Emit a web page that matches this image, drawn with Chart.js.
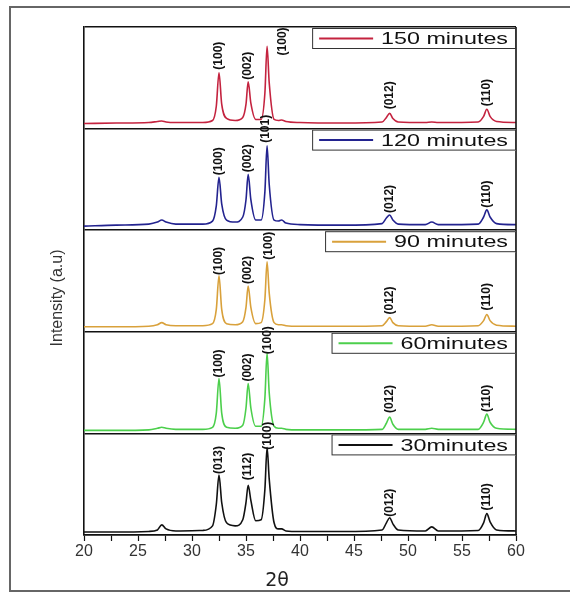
<!DOCTYPE html>
<html>
<head>
<meta charset="utf-8">
<script src="https://cdn.jsdelivr.net/npm/chart.js@4.4.1/dist/chart.umd.min.js"></script>
<style>
  html, body { margin: 0; padding: 0; background: #fff; }
  #wrap { width: 570px; height: 593px; position: relative; }
</style>
</head>
<body>
<div id="wrap"><canvas id="xrd"></canvas></div>
<script>
// 2theta sampling positions shared by every pattern
const TWO_THETA = [20, 23, 26, 26.8, 27.2, 27.6, 28.5, 31, 31.9, 32.25, 32.5, 32.75, 33.2, 34.0, 34.7, 35.0, 35.2, 35.45, 35.9, 36.4, 36.75, 36.95, 37.15, 37.6, 38.0, 38.3, 38.7, 40, 44, 47.6, 48.0, 48.3, 48.6, 49.1, 51.6, 52.2, 52.8, 56.5, 57.0, 57.3, 57.6, 58.2, 60];

// intensities (a.u.) per pattern, each inside its own 0-100 band
const I_150 = [5, 5.5, 6, 7, 7.5, 6.5, 6, 6, 8, 22, 55, 24, 10, 8, 11, 24, 46, 25, 9, 9, 35, 81, 45, 9, 8, 8.5, 7, 6, 5.5, 6.5, 11, 15, 10, 6.5, 6, 6.5, 6, 6.5, 12, 19, 12, 7, 6];
const I_120 = [4, 5, 6, 8, 10, 8, 6, 6, 9, 24, 52, 26, 10, 8, 13, 30, 55, 30, 10, 10, 38, 83, 45, 10, 9, 10, 7, 5.5, 5, 6.5, 12, 15, 10, 6, 5.5, 8, 5.5, 6, 13, 20, 13, 6.5, 5.5];
const I_90  = [5, 5, 5.5, 7, 9, 7, 6, 6, 8, 22, 55, 22, 8, 7, 10, 24, 45, 24, 8, 9, 32, 69, 38, 9, 7, 7, 6, 5.5, 5.5, 6, 10, 14, 9, 6, 5.5, 7, 5.5, 6, 11, 17, 11, 6.5, 5.5];
const I_60  = [3, 3, 3.5, 5, 6, 5, 4, 4, 6, 20, 54, 20, 6, 5, 8, 25, 49, 25, 7, 7, 35, 79, 40, 7, 5, 5, 4, 3.5, 3.5, 4, 10, 16, 9, 4, 4, 5, 4, 4, 11, 19, 11, 5, 4];
const I_30  = [3, 3, 3.5, 5, 10, 6, 4, 4.5, 9, 30, 59, 32, 12, 9, 15, 32, 49, 34, 14, 15, 45, 86, 55, 12, 6, 6, 4, 3.5, 3.5, 5, 12, 17, 11, 5, 4, 8, 4, 4.5, 12, 21, 13, 5, 4];

const SERIES_NAMES = ["150 minutes", "120 minutes", "90 minutes", "60minutes", "30minutes"];
const SERIES_DATA = [I_150, I_120, I_90, I_60, I_30];
const PANEL_OFFSETS = [400, 300, 200, 100, 0];
const COLORS = ["#c4233f", "#23238f", "#d9a13b", "#4ccf4c", "#111111"];

// miller index labels: text, 2theta of label, intensity where label starts
const HKL_150 = ["(100)", "(002)", "(100)", "(012)", "(110)"];
const HKL_POS_150 = [32.5, 35.2, 38.4, 48.3, 57.3];
const HKL_LVL_150 = [58, 48, 72, 19, 22];
const HKL_120 = ["(100)", "(002)", "(101)", "(012)", "(110)"];
const HKL_POS_120 = [32.5, 35.2, 36.8, 48.3, 57.3];
const HKL_LVL_120 = [54, 57, 86, 17, 22];
const HKL_90 = ["(100)", "(002)", "(100)", "(012)", "(110)"];
const HKL_POS_90 = [32.5, 35.2, 37.1, 48.3, 57.3];
const HKL_LVL_90 = [56, 47, 71, 17, 21];
const HKL_60 = ["(100)", "(002)", "(100)", "(012)", "(110)"];
const HKL_POS_60 = [32.5, 35.2, 37.0, 48.3, 57.3];
const HKL_LVL_60 = [55, 51, 78, 20, 21];
const HKL_30 = ["(013)", "(112)", "(100)", "(012)", "(110)"];
const HKL_POS_30 = [32.5, 35.2, 37.0, 48.3, 57.3];
const HKL_LVL_30 = [60, 54, 84, 18, 24];

const HKL_TEXT = [HKL_150, HKL_120, HKL_90, HKL_60, HKL_30];
const HKL_POS = [HKL_POS_150, HKL_POS_120, HKL_POS_90, HKL_POS_60, HKL_POS_30];
const HKL_LVL = [HKL_LVL_150, HKL_LVL_120, HKL_LVL_90, HKL_LVL_60, HKL_LVL_30];

const X_MIN = 20, X_MAX = 60, X_MINOR = 2.5;
const Y_MAX = 500, BAND = 100;

const datasets = SERIES_DATA.map((arr, i) => ({
  label: SERIES_NAMES[i],
  data: arr.map((v, k) => ({ x: TWO_THETA[k], y: v + PANEL_OFFSETS[i] })),
  borderColor: COLORS[i],
  borderWidth: 1.6,
  pointRadius: 0,
  cubicInterpolationMode: "monotone",
  fill: false
}));

// =========================
// DECORATIONS
// =========================
const decor = {
  id: "decor",
  beforeDraw(chart) {
    const c = chart.ctx;
    c.save();
    c.fillStyle = "#fff";
    c.fillRect(0, 0, chart.width, chart.height);
    c.strokeStyle = "#666";
    c.lineWidth = 2;
    c.strokeRect(10, 7, 580, 584);
    c.restore();
  },
  afterDraw(chart) {
    const c = chart.ctx;
    const a = chart.chartArea;
    const xs = chart.scales.x, ys = chart.scales.y;
    c.save();

    // right frame
    c.strokeStyle = "#111";
    c.lineWidth = 1.6;
    c.beginPath();
    c.moveTo(a.right, a.top);
    c.lineTo(a.right, a.bottom);
    c.stroke();

    // hkl labels
    c.fillStyle = "#111";
    c.font = "bold 12px 'Liberation Sans', Arial, sans-serif";
    c.textAlign = "left";
    c.textBaseline = "middle";
    HKL_TEXT.forEach((list, i) => {
      list.forEach((t, k) => {
        const px = xs.getPixelForValue(HKL_POS[i][k]);
        const py = ys.getPixelForValue(HKL_LVL[i][k] + PANEL_OFFSETS[i]);
        c.save();
        c.translate(px, py);
        c.rotate(-Math.PI / 2);
        c.fillText(t, 0, 0);
        c.restore();
      });
    });

    // legend boxes, one per band
    SERIES_NAMES.forEach((name, i) => {
      const top = ys.getPixelForValue(PANEL_OFFSETS[i] + BAND) + 1;
      c.font = "17px 'Liberation Sans', Arial, sans-serif";
      const sx = 1.37;
      const tw = c.measureText(name).width * sx;
      const right = a.right;
      const textRight = right - 8;
      const textLeft = textRight - tw;
      const lineR = textLeft - 8;
      const lineL = lineR - 54;
      const left = lineL - 7;
      const h = 21;
      c.fillStyle = "#fff";
      c.fillRect(left, top, right - left, h);
      c.strokeStyle = "#333";
      c.lineWidth = 1;
      c.strokeRect(left + 0.5, top + 0.5, right - left - 1, h - 1);
      c.strokeStyle = COLORS[i];
      c.lineWidth = 2;
      c.beginPath();
      c.moveTo(lineL, top + h / 2);
      c.lineTo(lineR, top + h / 2);
      c.stroke();
      c.fillStyle = "#111";
      c.textAlign = "left";
      c.textBaseline = "middle";
      c.save();
      c.translate(textLeft, top + h / 2 + 1);
      c.scale(sx, 1);
      c.fillText(name, 0, 0);
      c.restore();
    });

    // axis titles
    c.fillStyle = "#333";
    c.font = "16px 'Liberation Sans', Arial, sans-serif";
    c.textAlign = "center";
    c.textBaseline = "middle";
    c.save();
    c.translate(58, 298);
    c.rotate(-Math.PI / 2);
    c.fillText("Intensity (a.u)", 0, 0);
    c.restore();

    c.fillStyle = "#222";
    c.font = "19px 'DejaVu Sans', sans-serif";
    c.fillText("2\u03b8", 277, 581);
    c.restore();
  }
};

new Chart(document.getElementById("xrd"), {
  type: "line",
  data: { datasets },
  options: {
    responsive: true,
    maintainAspectRatio: false,
    animation: false,
    layout: { padding: { left: 84, right: 54, top: 27, bottom: 0 } },
    plugins: { legend: { display: false }, tooltip: { enabled: false } },
    scales: {
      x: {
        type: "linear",
        min: X_MIN,
        max: X_MAX,
        afterFit: s => { s.height = 58; },
        border: { color: "#111", width: 1.6 },
        grid: { drawOnChartArea: false, tickLength: 6, color: "#111", tickWidth: 1.2 },
        ticks: {
          stepSize: X_MINOR,
          autoSkip: false,
          maxRotation: 0,
          padding: 1,
          color: "#333",
          font: { family: "'Liberation Sans', Arial, sans-serif", size: 16 },
          callback: v => (v % 5 === 0 ? String(v) : "")
        }
      },
      y: {
        min: 0,
        max: Y_MAX,
        afterFit: s => { s.width = 0; },
        border: { color: "#111", width: 1.6 },
        grid: { color: "#111", lineWidth: 1.6, drawTicks: false },
        ticks: { display: false, stepSize: BAND }
      }
    }
  },
  plugins: [decor]
});
</script>
</body>
</html>
